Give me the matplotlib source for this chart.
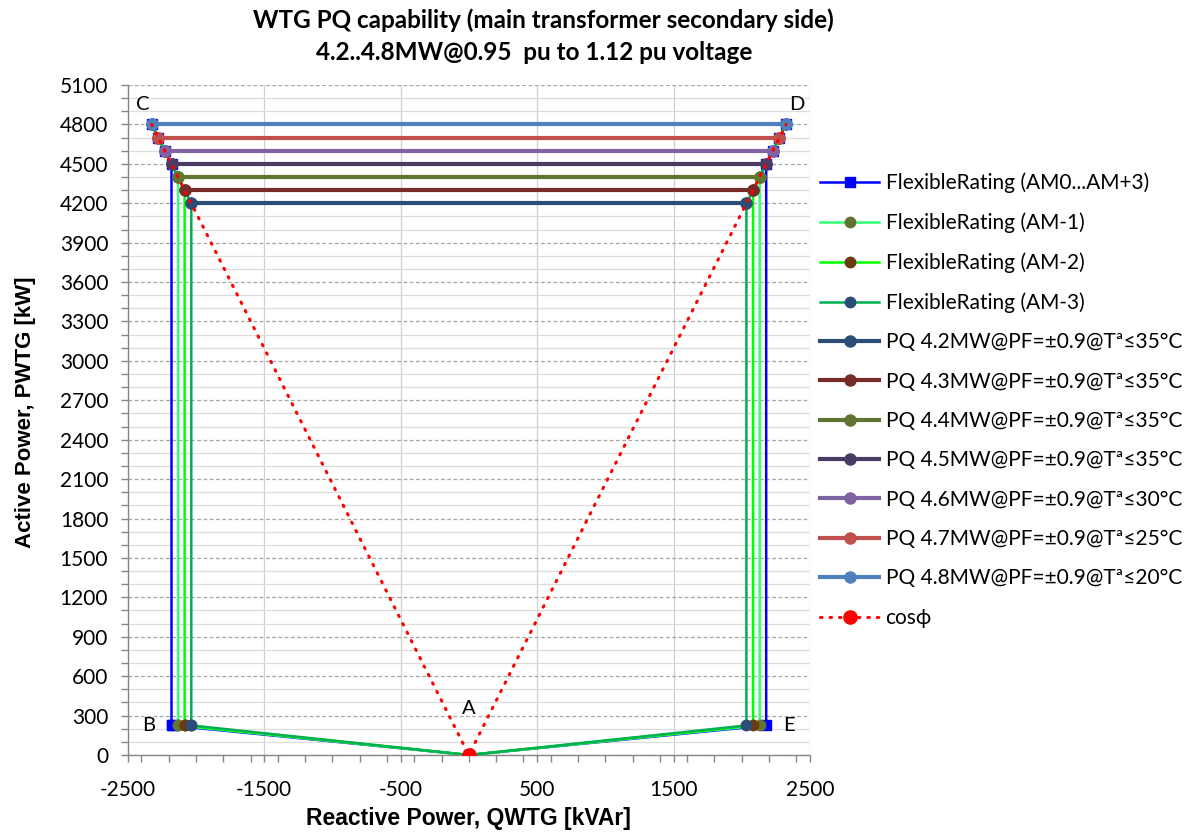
import matplotlib
matplotlib.use("Agg")
import matplotlib.pyplot as plt
from matplotlib.ticker import MultipleLocator, FixedLocator

# --- data ---
p_levels = [4200, 4300, 4400, 4500, 4600, 4700, 4800]          # kW, PQ rating levels
q_levels = [2034, 2083, 2131, 2179, 2228, 2276, 2325]          # kVAr at PF 0.9
p_low = 225                                                    # kW, lower corner B / E
pq_labels = [
    "PQ 4.2MW@PF=±0.9@Tª≤35°C",
    "PQ 4.3MW@PF=±0.9@Tª≤35°C",
    "PQ 4.4MW@PF=±0.9@Tª≤35°C",
    "PQ 4.5MW@PF=±0.9@Tª≤35°C",
    "PQ 4.6MW@PF=±0.9@Tª≤30°C",
    "PQ 4.7MW@PF=±0.9@Tª≤25°C",
    "PQ 4.8MW@PF=±0.9@Tª≤20°C",
]
pq_colors = ["#2c4d75", "#772c2a", "#5f7530", "#4a3c62", "#8064a2", "#c0504d", "#4f81bd"]

flex_labels = ["FlexibleRating (AM0...AM+3)", "FlexibleRating (AM-1)",
               "FlexibleRating (AM-2)", "FlexibleRating (AM-3)"]
flex_start = [3, 2, 1, 0]      # index into p_levels where the vertical side ends
flex_line = ["#0000ff", "#33ff77", "#00ff00", "#00b050"]
flex_mark = ["#0000ff", "#5f7530", "#6b3a10", "#2c4d75"]

cos_q = [-2325, 0, 2325]
cos_p = [4800, 0, 4800]

x_major = [-2500, -1500, -500, 500, 1500, 2500]

corner_names = ["C", "D", "B", "E", "A"]
corner_q = [-2390, 2400, -2345, 2345, 0]
corner_p = [4950, 4950, 228, 228, 355]


def flex_polygon(i0):
    # B side up, along the PF line to the top, across, down to E, then to A and back
    qs = [-q_levels[i0]] + [-q for q in q_levels[i0:]]
    ps = [p_low] + p_levels[i0:]
    qs += q_levels[i0:][::-1] + [q_levels[i0], 0, -q_levels[i0]]
    ps += p_levels[i0:][::-1] + [p_low, 0, p_low]
    return qs, ps


plt.rcParams['font.family'] = ['Lato', 'DejaVu Sans']
plt.rcParams['axes.unicode_minus'] = False
fig = plt.figure(figsize=(11.92, 8.32), dpi=100)
ax = fig.add_axes([127.7 / 1192, 77 / 832, 682.3 / 1192, 670 / 832])

z = 2
for k in range(4):
    qs, ps = flex_polygon(flex_start[k])
    mk = 's' if k == 0 else 'o'
    ax.plot(qs, ps, color=flex_line[k], lw=1.8, marker=mk, ms=7.5,
            mfc=flex_mark[k], mec=flex_mark[k], label=flex_labels[k], zorder=z)
    z += 1

for k in range(len(p_levels)):
    ax.plot([-q_levels[k], q_levels[k]], [p_levels[k], p_levels[k]],
            color=pq_colors[k], lw=3, marker='o', ms=8,
            mfc=pq_colors[k], mec=pq_colors[k], label=pq_labels[k], zorder=z)
    z += 1

ax.plot(cos_q, cos_p, color='#ff0000', lw=2.2, linestyle=(0, (0.5, 2.6)),
        dash_capstyle='round', marker='o', ms=9.5, markevery=[1],
        mfc='#ff0000', mec='#ff0000', label='cosϕ', zorder=z)

for name, q, p in zip(corner_names, corner_q, corner_p):
    ax.text(q, p, name, fontsize=14.5, ha='center', va='center', color='black', zorder=30)

ax.set_xlim(-2500, 2500)
ax.set_ylim(0, 5100)
ax.xaxis.set_major_locator(FixedLocator(x_major))
ax.xaxis.set_minor_locator(MultipleLocator(200))
ax.yaxis.set_major_locator(MultipleLocator(300))
ax.yaxis.set_minor_locator(MultipleLocator(100))

ax.grid(True, which='major', axis='y', color='#a6a6a6', lw=0.9, linestyle=(0, (3, 2)), zorder=0)
ax.grid(True, which='minor', axis='y', color='#dcdcdc', lw=0.9, zorder=0)
ax.grid(True, which='major', axis='x', color='#d0d0d0', lw=0.9, zorder=0)
ax.set_axisbelow(True)

for s in ['top', 'right']:
    ax.spines[s].set_visible(False)
for s in ['left', 'bottom']:
    ax.spines[s].set_color('#868686')
    ax.spines[s].set_linewidth(1.0)

ax.tick_params(which='both', direction='out', color='#868686', width=1.0, length=5,
               labelsize=15, labelcolor='black')
ax.tick_params(axis='x', pad=13)
ax.tick_params(axis='y', pad=9)

ax.set_xlabel("Reactive Power, QWTG [kVAr]", family='Liberation Sans', fontweight='bold',
              fontsize=16.5)
ax.xaxis.set_label_coords(0.5, -0.077)
ax.set_ylabel("Active Power, PWTG [kW]", family='Liberation Sans', fontweight='bold',
              fontsize=16)
ax.yaxis.set_label_coords(-0.134, 0.512)

fig.text(543 / 1192, 1 - 20 / 832, "WTG PQ capability (main transformer secondary side)",
         ha='center', va='center', fontsize=17.5, fontweight='bold')
fig.text(534 / 1192, 1 - 53 / 832, "4.2..4.8MW@0.95  pu to 1.12 pu voltage",
         ha='center', va='center', fontsize=17.5, fontweight='bold')

ax.legend(loc='upper left', bbox_to_anchor=(812 / 1192, 1 - 164 / 832),
          bbox_transform=fig.transFigure, frameon=False, fontsize=15,
          handlelength=2.8, handletextpad=0.33, labelspacing=0.93, borderaxespad=0)

fig.savefig("out.png", dpi=100, facecolor='white')
